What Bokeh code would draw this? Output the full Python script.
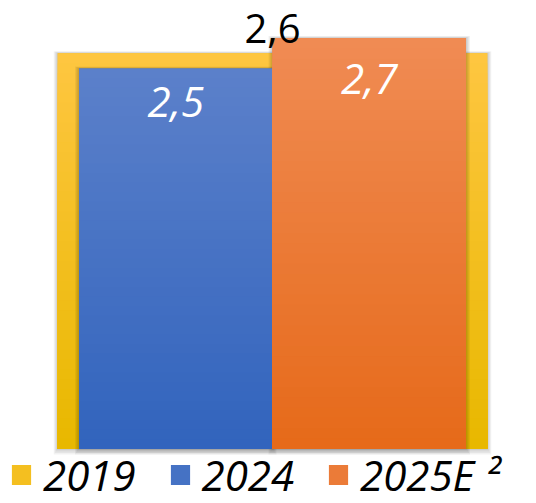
from bokeh.plotting import figure
from bokeh.models import Range1d, Legend, LegendItem
from bokeh.core.properties import value
from bokeh.embed import file_html
from bokeh.resources import INLINE

# data
years = ["2019", "2024", "2025E"]
values = [2.6, 2.5, 2.7]
value_labels = ["2,6", "2,5", "2,7"]
legend_labels = ["2019", "2024", "2025E ²"]

# style
colors = ["#f4bf20", "#4572c4", "#eb7b38"]
top_colors = ["#fec640", "#5b80ca", "#f08b53"]
bottom_colors = ["#e8b800", "#3264bd", "#e66a1a"]
label_colors = ["#000000", "#ffffff", "#ffffff"]
label_styles = ["normal", "italic", "italic"]
label_sizes = ["40px", "42px", "42px"]
x_pos = [0.0, -0.5, 0.5]
widths = [2.22, 1.0, 1.0]
label_offsets = [-25, 33, 41]

W, H = 536, 503
PX_X = 193.5
PX_Y = 152.0
CX, BASE = 272, 448

p = figure(width=W, height=H, output_backend="svg", toolbar_location=None,
           x_range=Range1d(-CX / PX_X, (W - CX) / PX_X),
           y_range=Range1d(-(H - BASE) / PX_Y, BASE / PX_Y),
           x_axis_location=None, y_axis_location=None, min_border=0)
p.xgrid.visible = False
p.ygrid.visible = False
p.outline_line_color = None
p.background_fill_color = "white"
p.border_fill_color = "white"


def hex2rgb(h):
    return tuple(int(h[k:k + 2], 16) for k in (1, 3, 5))


def mix(c1, c2, t):
    a, b = hex2rgb(c1), hex2rgb(c2)
    return "#%02x%02x%02x" % tuple(round(a[k] + (b[k] - a[k]) * t) for k in range(3))


def shadow(i):
    for k in (1, 2, 3, 4):
        dx = k / PX_X
        dy = k / PX_Y
        p.quad(left=[x_pos[i] - widths[i] / 2 - dx], right=[x_pos[i] + widths[i] / 2 + dx],
               top=[values[i] + dy * 0.5], bottom=[-dy * 1.5],
               fill_color="black", fill_alpha=0.05, line_color=None)


def bar(i):
    r = p.vbar(x=[x_pos[i]], width=widths[i], top=[values[i]], bottom=0,
               fill_color=colors[i], line_color=None)
    n = 40
    tops = [values[i] * (n - j) / n for j in range(n)]
    cols = [mix(top_colors[i], bottom_colors[i], j / (n - 1)) for j in range(n)]
    p.quad(left=[x_pos[i] - widths[i] / 2] * n, right=[x_pos[i] + widths[i] / 2] * n,
           top=tops, bottom=[0] * n, fill_color=cols, line_color=None)
    return r


shadow(0)
r0 = bar(0)
shadow(1)
shadow(2)
r1 = bar(1)
r2 = bar(2)
renderers = [r0, r1, r2]

for i in range(len(years)):
    p.text(x=[x_pos[i]], y=[values[i]], text=[value_labels[i]],
           text_align="center", text_baseline="alphabetic",
           y_offset=label_offsets[i], text_color=label_colors[i],
           text_font=value("Open Sans"), text_font_style=label_styles[i],
           text_font_size=label_sizes[i])

legend = Legend(
    items=[LegendItem(label=legend_labels[i], renderers=[renderers[i]]) for i in range(len(years))],
    orientation="horizontal", location=(9, 0),
    glyph_width=24, glyph_height=25, label_standoff=10, spacing=32,
    padding=0, margin=0, border_line_color=None, background_fill_alpha=0,
    label_text_font="Open Sans", label_text_font_style="italic",
    label_text_font_size="42px", label_text_color="black")
p.add_layout(legend)

open("out.html", "w").write(file_html(p, INLINE))
